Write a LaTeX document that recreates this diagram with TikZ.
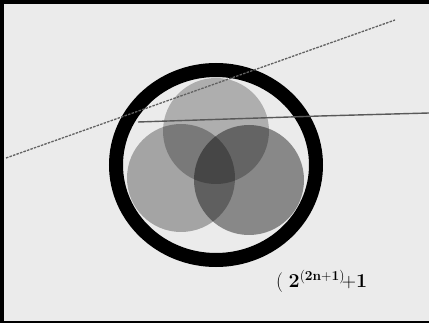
\documentclass[tikz,border=0pt]{standalone}
\begin{document}
\begin{tikzpicture}[x=1pt,y=-1pt,
  venn/.style={fill=black,fill opacity=#1,draw=none},
  ring/.style={draw=black,line width=14pt},
  dashline/.style={draw=black!62,line width=1.3pt,dash pattern=on 2.5pt off 1.2pt},
  solidline/.style={draw=black!65,line width=1.4pt}]
\useasboundingbox (0,0) rectangle (429,323);
\fill[black] (0,0) rectangle (429,323);
\fill[black!8] (4,4) rectangle (429,321);
% venn circles
\fill[venn=0.26] (216,131) circle (53);
\fill[venn=0.30] (181,178) circle (54);
\fill[venn=0.42] (249,180) circle (55);
% outer ring
\draw[ring] (216,165) ellipse (100 and 95);
% lines
\coordinate (d1) at (6,158);
\coordinate (d2) at (395,20);
\draw[dashline] (d1) -- (d2);
\coordinate (s1) at (138,122);
\coordinate (s2) at (320,116);
\coordinate (s3) at (429,113);
\draw[solidline] (s1) -- (s2) -- (s3);
% formula
\node[anchor=west,inner sep=0pt,scale=1.14] (f) at (276,281) {\fontsize{16.5}{20}\selectfont $\mathbf{(\;2^{(2n+1)}\!{+}1}$};
\end{tikzpicture}
\end{document}
